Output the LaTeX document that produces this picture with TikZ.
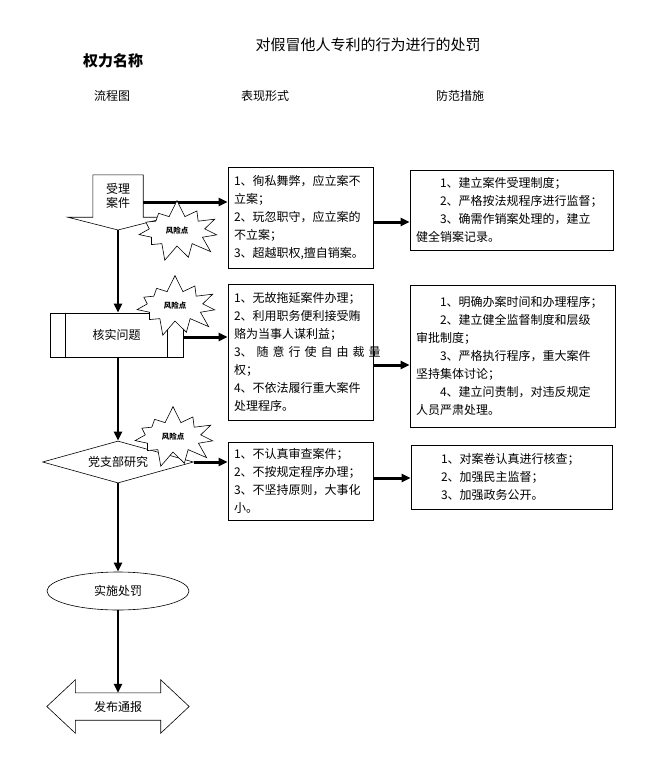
\documentclass[tikz,border=0pt]{standalone}
\usepackage{fontspec}
\setmainfont{Noto Sans CJK SC}
\usetikzlibrary{arrows.meta,shapes.geometric,shapes.symbols}
\XeTeXlinebreaklocale "zh"

\tikzset{
  box/.style 2 args={draw,line width=0.8pt,inner xsep=6pt,inner ysep=0pt,
    text width=#1,minimum height=#2,align=left,font=\fontsize{12}{18}\selectfont},
  risk/.style={starburst,starburst points=11,starburst point height=17pt,
    random starburst=7,draw,fill=white,line width=0.6pt,minimum width=90pt,
    minimum height=64pt,inner sep=0pt,font=\fontsize{7.5}{8}\selectfont\bfseries},
  flow/.style={line width=2.5pt,->},
  arr/.style={line width=3pt,->},
  step12/.style={font=\fontsize{12}{14}\selectfont},
}

\begin{document}
\begin{tikzpicture}[x=1pt,y=-1pt,>={Triangle[length=9pt,width=8pt]}]
\useasboundingbox (0,0) rectangle (668,761);

% headings
\node[font=\fontsize{15}{15}\selectfont\bfseries] (power) at (113,61) {权力名称};
\node[font=\fontsize{15}{15}\selectfont] (title) at (368,45) {对假冒他人专利的行为进行的处罚};
\node[step12] (hflow) at (112,96) {流程图};
\node[step12] (hform) at (265,96) {表现形式};
\node[step12] (hguard) at (460,96) {防范措施};

% flow chart
\node[step12,align=center,minimum width=50pt,minimum height=42pt,inner sep=0pt] (accept) at (118,196) {受理\\案件};
\coordinate (acceptTip) at (118,230);
\draw[line width=0.6pt] (accept.south west) -- (accept.north west) -- (accept.north east) -- (accept.south east)
  -- ([xshift=25pt]accept.south east) -- (acceptTip) -- ([xshift=-25pt]accept.south west) -- cycle;

\node[step12,draw,line width=0.6pt,minimum width=133pt,minimum height=44pt] (check) at (116.5,335) {核实问题};
\draw[line width=0.6pt] ([xshift=16pt]check.north west) -- ([xshift=16pt]check.south west);
\draw[line width=0.6pt] ([xshift=-16pt]check.north east) -- ([xshift=-16pt]check.south east);

\node[step12,diamond,draw,line width=0.6pt,aspect=3.6,minimum width=151pt,minimum height=42pt,inner sep=0pt] (branch) at (118,462) {党支部研究};

\node[step12,ellipse,draw,line width=0.6pt,minimum width=142pt,minimum height=38pt] (punish) at (118,591) {实施处罚};

\node[step12,minimum width=85pt,minimum height=27pt,inner sep=0pt] (notify) at (118,706.5) {发布通报};
\draw[line width=0.6pt] (notify.north west) -- (notify.north east) -- ++(0,-13) -- ([xshift=28.5pt]notify.east)
  -- ([yshift=-13pt]notify.south east) -- (notify.south east) -- (notify.south west)
  -- ([yshift=-13pt]notify.south west) -- ([xshift=-28.5pt]notify.west) -- ([yshift=13pt]notify.north west) -- cycle;

\draw[flow] (acceptTip) -- (acceptTip |- check.north);
\draw[flow] (acceptTip |- check.south) -- (branch.north);
\draw[flow] (branch.south) -- (punish.north);
\draw[flow] (punish.south) -- (notify.north);

% forms
\node[box={133pt}{101pt}] (form1) at (300.5,217.5) {1、徇私舞弊，应立案不\\立案；\\2、玩忽职守，应立案的\\不立案；\\3、超越职权,擅自销案。};
\node[box={133pt}{136pt}] (form2) at (300.5,352) {1、无故拖延案件办理；\\2、利用职务便利接受贿\\赂为当事人谋利益；\\\makebox[133pt][s]{3、 随 意 行 使 自 由 裁 量}\\权；\\4、不依法履行重大案件\\处理程序。};
\node[box={133pt}{78pt}] (form3) at (300.5,481) {1、不认真审查案件；\\2、不按规定程序办理；\\3、不坚持原则，大事化\\小。};

% guards
\node[box={191pt}{80pt}] (guard1) at (511.5,210) {\hspace*{2em}1、建立案件受理制度；\\\hspace*{2em}2、严格按法规程序进行监督；\\\hspace*{2em}3、确需作销案处理的，建立\\健全销案记录。};
\node[box={193pt}{142pt}] (guard2) at (512.5,356) {\hspace*{2em}1、明确办案时间和办理程序；\\\hspace*{2em}2、建立健全监督制度和层级\\审批制度；\\\hspace*{2em}3、严格执行程序，重大案件\\坚持集体讨论；\\\hspace*{2em}4、建立问责制，对违反规定\\人员严肃处理。};
\node[box={189pt}{64pt}] (guard3) at (511.5,477) {\hspace*{2em}1、对案卷认真进行核查；\\\hspace*{2em}2、加强民主监督；\\\hspace*{2em}3、加强政务公开。};

\draw[arr] (accept.east |- 0,202) -- (form1.west |- 0,202);
\draw[arr] (form1.east |- 0,222) -- (guard1.west |- 0,222);
\draw[arr] (check.east |- 0,337) -- (form2.west |- 0,337);
\draw[arr] (form2.east |- 0,365) -- (guard2.west |- 0,365);
\draw[arr] (branch.east) -- (form3.west |- branch.east);
\draw[arr] (form3.east |- 0,478) -- (guard3.west |- 0,478);

% risk points
\node[risk] (risk1) at (177,231) {风险点};
\node[risk] (risk2) at (175,306) {风险点};
\node[risk] (risk3) at (173,437) {风险点};
\end{tikzpicture}
\end{document}
